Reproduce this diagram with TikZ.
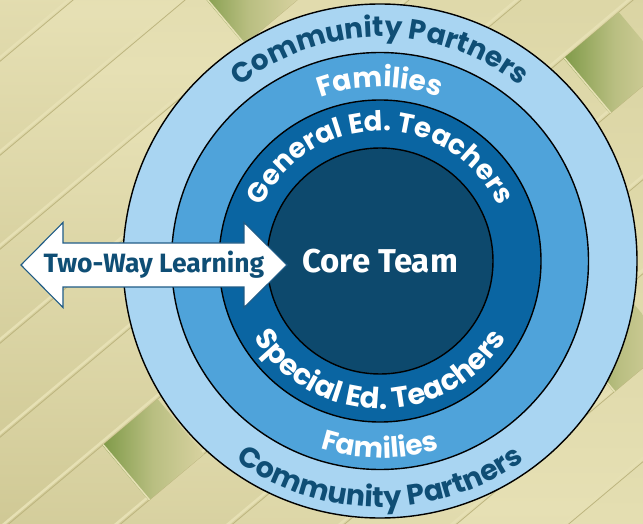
\documentclass[tikz,border=0pt]{standalone}
\usepackage{fontspec}
\usetikzlibrary{decorations.text}
\newfontfamily\popfont{Poppins}
\newfontfamily\firafont{Fira Sans}
\definecolor{ringA}{HTML}{A9D5F2}
\definecolor{ringB}{HTML}{4FA3DA}
\definecolor{ringC}{HTML}{0A65A2}
\definecolor{coreC}{HTML}{0D496D}
\definecolor{darktext}{HTML}{0F4E75}
\definecolor{arrowline}{HTML}{1F5B86}
\definecolor{bgbase}{HTML}{D8D2A0}
\definecolor{bgdark}{HTML}{CBC48F}
\definecolor{bglight}{HTML}{E6E0B4}
\definecolor{bgline}{HTML}{BDB57F}
\definecolor{bggreen}{HTML}{7F9A48}
\begin{document}
\begin{tikzpicture}[x=1pt,y=1pt,
  ring/.style={draw=black, line width=1.4pt},
  ringlabel/.style={decorate, decoration={text along path, text align=center, text={#1}}},
  bigtext/.style={font=\firafont\bfseries\fontsize{33}{36}\selectfont, text=white, inner sep=0pt},
  arrowtext/.style={font=\firafont\bfseries\fontsize{26.5}{29}\selectfont, text=darktext, inner sep=0pt},
]
\useasboundingbox (0,0) rectangle (643,523);
% background weave
\begin{scope}
  \clip (0,0) rectangle (643,523);
  \fill[bgbase] (0,0) rectangle (643,523);
  \begin{scope}[shift={(321.5,261.5)}, rotate=40]
    \foreach \k in {-9,...,9}{
      \shade[bottom color=bgdark, top color=bgbase, middle color=bglight] (-500,\k*72) rectangle (500,\k*72+72);
      \draw[bglight, line width=2.5pt] (-500,\k*72+3) -- (500,\k*72+3);
      \draw[bgline, line width=0.8pt] (-500,\k*72) -- (500,\k*72);
    }
    \foreach \u/\v in {-250/-72, 116/216, 352/-72, 176/-288}{
      \shade[left color=bggreen, right color=bgbase, middle color=bgbase!65!bggreen] (\u-36,\v) rectangle (\u+36,\v+72);
      \draw[bglight, line width=1.5pt] (\u-35,\v) -- (\u-35,\v+72);
    }
  \end{scope}
\end{scope}
% circles
\begin{scope}[shift={(380,262)}]
  \coordinate (O) at (0,0);
  \fill[ringA] (O) circle[radius=257];
  \draw[ring] (O) circle[radius=257];
  \filldraw[ring, fill=ringB] (O) circle[radius=208.5];
  \filldraw[ring, fill=ringC] (O) circle[radius=161];
  \filldraw[ring, fill=coreC] (O) circle[radius=113];
  % ring labels
  \path[ringlabel={|\color{darktext}\popfont\bfseries\fontsize{28}{30}\selectfont|Community Partners}] (160:224) arc[start angle=160, end angle=20, radius=224];
  \path[ringlabel={|\color{white}\popfont\bfseries\fontsize{28}{30}\selectfont|Families}] (150:174) arc[start angle=150, end angle=30, radius=174];
  \path[ringlabel={|\color{white}\popfont\bfseries\fontsize{27.5}{30}\selectfont|General Ed. Teachers}] (178:130) arc[start angle=178, end angle=2, radius=130];
  \path[ringlabel={|\color{white}\popfont\bfseries\fontsize{29}{31}\selectfont|Special Ed. Teachers}] (185:148) arc[start angle=185, end angle=355, radius=148];
  \path[ringlabel={|\color{white}\popfont\bfseries\fontsize{28}{30}\selectfont|Families}] (210:197) arc[start angle=210, end angle=330, radius=197];
  \path[ringlabel={|\color{darktext}\popfont\bfseries\fontsize{28.5}{30}\selectfont|Community Partners}] (200:246) arc[start angle=200, end angle=340, radius=246];
  \node[bigtext] (core) at (O) {Core Team};
\end{scope}
% two-way arrow
\coordinate (A) at (154,258);
\draw[arrowline, line width=1.1pt, fill=white, line join=miter]
  (21,258) -- (63,300.5) -- (63,280) -- (244,280) -- (244,300.5) -- (287,258)
  -- (244,215.5) -- (244,236) -- (63,236) -- (63,215.5) -- cycle;
\node[arrowtext] (tw) at (A) {Two-Way Learning};
\end{tikzpicture}
\end{document}
